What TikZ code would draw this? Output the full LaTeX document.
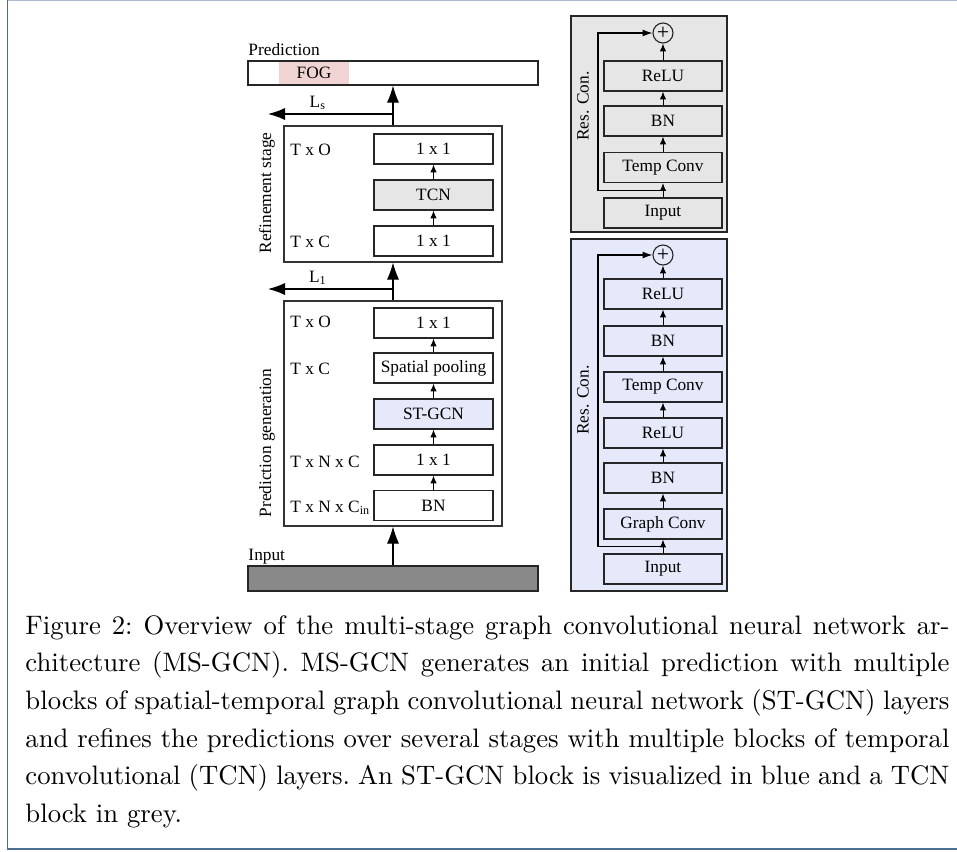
\documentclass[tikz,border=0pt]{standalone}
\usepackage{fontspec}
\newfontfamily\netfont{Liberation Serif}
\usetikzlibrary{
	arrows.meta,
	calc
}
\newlength{\pxu}
\setlength{\pxu}{0.41pt}
\definecolor{fogpink}{HTML}{F0D3D3}
\definecolor{tcngrey}{HTML}{E6E6E6}
\definecolor{gcnblue}{HTML}{E6E9FA}
\definecolor{inputgrey}{HTML}{898989}
\definecolor{framelight}{HTML}{A9BCCF}
\definecolor{framedark}{HTML}{4E6D92}
\tikzset{
	every node/.append style={
		font=\netfont\fontsize{7.1}{8.5}\selectfont
	},
	stage/.style={
		draw=black!80, line width=0.45pt,
		minimum width=218\pxu, inner sep=0pt
	},
	layer/.style={
		draw=black!85, line width=0.45pt,
		minimum width=119\pxu, minimum height=30\pxu, inner sep=0pt
	},
	rlayer/.style={
		layer, minimum width=118\pxu
	},
	block/.style={
		draw=black!85, line width=0.5pt,
		minimum width=156\pxu, inner sep=0pt
	},
	bar/.style={
		draw=black!85, line width=0.45pt,
		minimum width=290\pxu, inner sep=0pt
	},
	sumnode/.style={
		circle, draw=black!85, line width=0.45pt,
		minimum size=20\pxu, inner sep=0pt,
		font=\netfont\fontsize{9}{9}\selectfont
	},
	bigarrow/.style={
		-{Latex[length=7pt,width=5pt]}, line width=0.5pt
	},
	smallarrow/.style={
		-{Latex[length=3.2pt,width=2.6pt]}, line width=0.4pt
	},
	resarrow/.style={
		-{Latex[length=4pt,width=2.8pt]}, line width=0.45pt
	}
}

\begin{document}
\begin{tikzpicture}[x=0.41pt,y=-0.41pt]
	\useasboundingbox (0,0) rectangle (957,852);
	\draw[framelight, line width=0.6pt] (7.5,0.5) -- (957,0.5);
	\draw[framedark, line width=0.6pt] (7.5,0) -- (7.5,849) -- (957,849);

	%%%%% input and prediction
	\node[anchor=base west, inner sep=0pt] (inlab) at (248,560) {Input};
	\node[bar, fill=inputgrey, minimum height=25\pxu] (inp) at (393,578.5) {};
	\node[anchor=base west, inner sep=0pt] (predlab) at (248,55) {Prediction};
	\node[fill=fogpink, minimum width=70\pxu, minimum height=24\pxu, inner sep=0pt] (fog) at (314,73) {FOG};
	\node[bar, minimum height=24\pxu] (pred) at (393,73) {};

	%%%%% prediction generation
	\node[stage, minimum height=225\pxu] (pg) at (393,413.5) {};
	\node[rotate=90] at (267,443) {Prediction generation};
	\foreach \i/\t/\y/\f in {1/BN/505.5/white, 2/{1 x 1}/460/white, 3/ST-GCN/414/gcnblue, 4/Spatial pooling/368/white, 5/{1 x 1}/323/white}
		\node[layer, fill=\f] (pg\i) at (433.5,\y) {\t};
	\foreach \i [remember=\i as \last (initially 1)] in {2,...,5}
		\draw[smallarrow] (pg\last) -- (pg\i);
	\foreach \t/\y in {T x N x C\textsubscript{in}/512, T x N x C/467, T x C/374, T x O/327}
		\node[anchor=base west, inner sep=0pt] at (290,\y) {\t};

	%%%%% refinement stage
	\node[stage, minimum height=136\pxu] (rs) at (393,194) {};
	\node[rotate=90] at (267,193) {Refinement stage};
	\foreach \i/\t/\y/\f in {1/{1 x 1}/241/white, 2/TCN/195/tcngrey, 3/{1 x 1}/149/white}
		\node[layer, fill=\f] (rs\i) at (433.5,\y) {\t};
	\foreach \i [remember=\i as \last (initially 1)] in {2,3}
		\draw[smallarrow] (rs\last) -- (rs\i);
	\foreach \t/\y in {T x C/247, T x O/155}
		\node[anchor=base west, inner sep=0pt] at (290,\y) {\t};

	%%%%% main flow and losses
	\draw[bigarrow] (inp) -- (pg);
	\draw[bigarrow] (pg) -- (rs);
	\draw[bigarrow] (rs) -- (pred);
	\coordinate (lone) at (268,289);
	\coordinate (lstage) at (268,114);
	\draw[bigarrow] (lone -| pg.north) -- (lone) node[pos=0.6, above, inner sep=1.5pt] {L\textsubscript{1}};
	\draw[bigarrow] (lstage -| rs.north) -- (lstage) node[pos=0.6, above, inner sep=1.5pt] {L\textsubscript{s}};

	%%%%% TCN block
	\node[block, fill=tcngrey, minimum height=216\pxu] (tblk) at (649,124) {};
	\node[rotate=90] at (583,106) {Res. Con.};
	\foreach \i/\t/\y in {1/Input/213, 2/Temp Conv/167.5, 3/BN/121, 4/ReLU/76}
		\node[rlayer] (tb\i) at (663,\y) {\t};
	\node[sumnode] (tsum) at (663,33) {+};
	\foreach \i [remember=\i as \last (initially 1)] in {2,3,4}
		\draw[smallarrow] (tb\last) -- (tb\i);
	\draw[smallarrow] (tb4) -- (tsum);
	\draw[resarrow] ($(tb1.north)!0.5!(tb2.south)$) -- ++(-65,0) |- (tsum);

	%%%%% ST-GCN block
	\node[block, fill=gcnblue, minimum height=352\pxu] (gblk) at (649,415) {};
	\node[rotate=90] at (583,400) {Res. Con.};
	\foreach \i/\t/\y in {1/Input/569, 2/Graph Conv/524, 3/BN/478, 4/ReLU/433, 5/Temp Conv/387, 6/BN/341, 7/ReLU/294}
		\node[rlayer] (gb\i) at (663,\y) {\t};
	\node[sumnode] (gsum) at (663,255) {+};
	\foreach \i [remember=\i as \last (initially 1)] in {2,...,7}
		\draw[smallarrow] (gb\last) -- (gb\i);
	\draw[smallarrow] (gb7) -- (gsum);
	\draw[resarrow] ($(gb1.north)!0.5!(gb2.south)$) -- ++(-65,0) |- (gsum);

	%%%%% caption
	\node[anchor=base west, inner sep=0pt, text width=924\pxu, align=justify, font=\rmfamily\fontsize{10.95}{15.45}\selectfont\frenchspacing] (cap) at (25,634) {Figure 2: Overview of the multi-stage graph convolutional neural network ar-\linebreak chitecture (MS-GCN). MS-GCN generates an initial prediction with multiple\linebreak blocks of spatial-temporal graph convolutional neural network (ST-GCN) layers\linebreak and refines the predictions over several stages with multiple blocks of temporal\linebreak convolutional (TCN) layers. An ST-GCN block is visualized in blue and a TCN\linebreak block in grey.};
\end{tikzpicture}
\end{document}
